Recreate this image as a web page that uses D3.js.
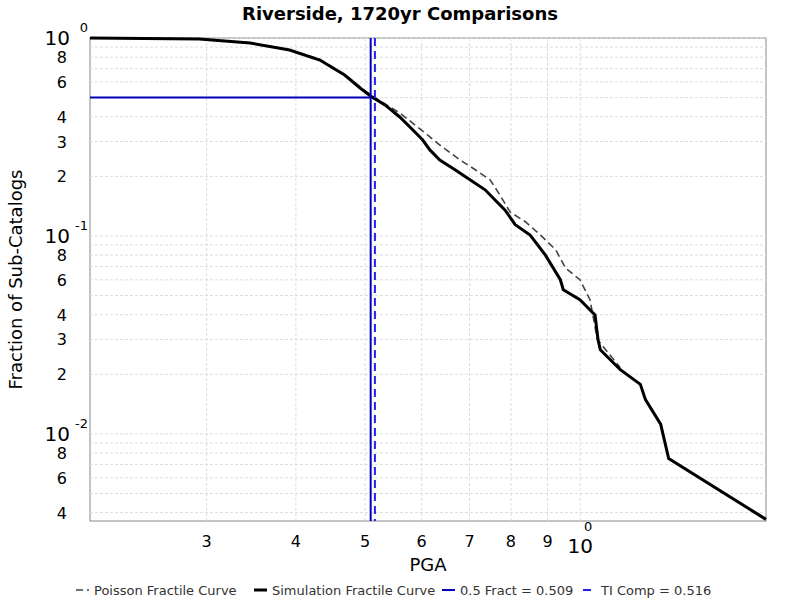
<!DOCTYPE html>
<html><head><meta charset="utf-8">
<script src="https://cdn.jsdelivr.net/npm/d3@7"></script>
<style>body{margin:0;background:#fff}svg{font-family:"DejaVu Sans",sans-serif}</style>
</head><body><div id="chart"></div>
<script>
const simX = [0.206,0.293,0.345,0.392,0.432,0.468,0.492,0.511,0.533,0.559,0.587,0.602,0.616,0.636,0.668,0.701,0.736,0.760,0.785,0.811,0.851,0.894,0.938,0.947,0.999,1.049,1.059,1.067,1.138,1.214,1.234,1.296,1.33,1.82];
const simY = [1.0,0.988,0.943,0.870,0.774,0.650,0.559,0.504,0.459,0.399,0.335,0.305,0.272,0.242,0.216,0.192,0.171,0.152,0.135,0.114,0.101,0.080,0.0601,0.0535,0.0476,0.0399,0.0300,0.0266,0.0211,0.0178,0.0149,0.0112,0.0075,0.0037];
const poiX = [0.206,0.293,0.345,0.392,0.432,0.468,0.492,0.511,0.559,0.607,0.636,0.679,0.713,0.748,0.772,0.798,0.838,0.880,0.924,0.954,0.999,1.032,1.057,1.138];
const poiY = [1.0,0.99,0.945,0.87,0.78,0.655,0.565,0.51,0.418,0.331,0.288,0.242,0.216,0.192,0.161,0.132,0.118,0.101,0.0851,0.0688,0.0601,0.0476,0.0300,0.0216];
const fract = 0.509, tiComp = 0.516;
const xTicks = [0.3,0.4,0.5,0.6,0.7,0.8,0.9];
const yMinor = [8,6,4,3,2];

const W = 800, H = 600, m = {top: 38, right: 34, bottom: 79, left: 90};
const svg = d3.select("#chart").append("svg").attr("width", W).attr("height", H);
const x = d3.scaleLog().domain([0.206, 1.82]).range([m.left, W - m.right]);
const y = d3.scaleLog().domain([0.00363, 1]).range([H - m.bottom, m.top]);

svg.append("rect").attr("x", m.left).attr("y", m.top)
  .attr("width", W - m.left - m.right).attr("height", H - m.top - m.bottom)
  .attr("fill", "#fff").attr("stroke", "#888");

// grid
const xGrid = [];
for (let d = 0.1; d <= 1; d *= 10) for (let k = 1; k <= 9; k++) { const v = +(d * k).toPrecision(3); if (v >= 0.206 && v <= 1.82) xGrid.push(v); }
const yGrid = [];
for (let d = 0.001; d <= 1; d *= 10) for (let k = 1; k <= 9; k++) { const v = +(d * k).toPrecision(3); if (v >= 0.00363 && v <= 1) yGrid.push(v); }
svg.append("g").selectAll("line").data(xGrid).join("line")
  .attr("x1", d => x(d)).attr("x2", d => x(d)).attr("y1", m.top).attr("y2", H - m.bottom)
  .attr("stroke", "#ddd").attr("stroke-dasharray", "3,2");
svg.append("g").selectAll("line").data(yGrid).join("line")
  .attr("y1", d => y(d)).attr("y2", d => y(d)).attr("x1", m.left).attr("x2", W - m.right)
  .attr("stroke", "#ddd").attr("stroke-dasharray", "3,2");

// y labels
const yl = svg.append("g").attr("font-size", 16).attr("text-anchor", "end");
[1, 0.1, 0.01].forEach((d, i) => {
  yl.append("text").attr("x", m.left - 20).attr("y", y(d) + 7).attr("font-size", 20).text("10");
  yl.append("text").attr("x", m.left - 2).attr("y", y(d) - 6).attr("font-size", 13).text(i === 0 ? "0" : "-" + i);
  yMinor.forEach(k => { const v = d * k / 10; if (v >= 0.00363) yl.append("text").attr("x", m.left - 23).attr("y", y(v) + 6).text(k); });
});

// x labels
const xl = svg.append("g").attr("font-size", 16).attr("text-anchor", "middle");
xTicks.forEach(d => xl.append("text").attr("x", x(d)).attr("y", H - m.bottom + 26).text(Math.round(d * 10)));
xl.append("text").attr("x", x(1)).attr("y", H - m.bottom + 32).attr("font-size", 20).text("10");
xl.append("text").attr("x", x(1) + 8).attr("y", H - m.bottom + 10).attr("font-size", 13).text("0");

svg.append("text").attr("x", (m.left + W - m.right) / 2).attr("y", 571).attr("text-anchor", "middle").attr("font-size", 18).text("PGA");
svg.append("text").attr("transform", `translate(22,${(m.top + H - m.bottom) / 2}) rotate(-90)`)
  .attr("text-anchor", "middle").attr("font-size", 18).text("Fraction of Sub-Catalogs");
svg.append("text").attr("x", W / 2).attr("y", 20).attr("text-anchor", "middle").attr("font-size", 18).attr("font-weight", "bold").text("Riverside, 1720yr Comparisons");

// lines
const line = d3.line().x(d => x(d[0])).y(d => y(d[1]));
svg.append("path").attr("d", line(d3.zip(poiX, poiY))).attr("fill", "none").attr("stroke", "#444").attr("stroke-width", 1.6).attr("stroke-dasharray", "7,4");
svg.append("path").attr("d", line(d3.zip(simX, simY))).attr("fill", "none").attr("stroke", "#000").attr("stroke-width", 3);
svg.append("line").attr("x1", x(fract)).attr("x2", x(fract)).attr("y1", m.top).attr("y2", H - m.bottom).attr("stroke", "#0000bb").attr("stroke-width", 2);
svg.append("line").attr("x1", m.left).attr("x2", x(fract)).attr("y1", y(0.5)).attr("y2", y(0.5)).attr("stroke", "#0000bb").attr("stroke-width", 2);
svg.append("line").attr("x1", x(tiComp)).attr("x2", x(tiComp)).attr("y1", m.top).attr("y2", H - m.bottom).attr("stroke", "#2222ee").attr("stroke-width", 2).attr("stroke-dasharray", "8,5");

// legend
const leg = [
  {t: "Poisson Fractile Curve", c: "#444", w: 1.6, d: "7,4", x: 76},
  {t: "Simulation Fractile Curve", c: "#000", w: 3, d: null, x: 254},
  {t: "0.5 Fract = 0.509", c: "#0000bb", w: 2, d: null, x: 442},
  {t: "TI Comp = 0.516", c: "#2222ee", w: 2, d: "8,5", x: 583}
];
const lg = svg.append("g").attr("font-size", 13).attr("fill", "#333");
leg.forEach(l => {
  lg.append("line").attr("x1", l.x).attr("x2", l.x + 13).attr("y1", 590).attr("y2", 590).attr("stroke", l.c).attr("stroke-width", l.w).attr("stroke-dasharray", l.d);
  lg.append("text").attr("x", l.x + 18).attr("y", 595).text(l.t);
});
</script></body></html>
